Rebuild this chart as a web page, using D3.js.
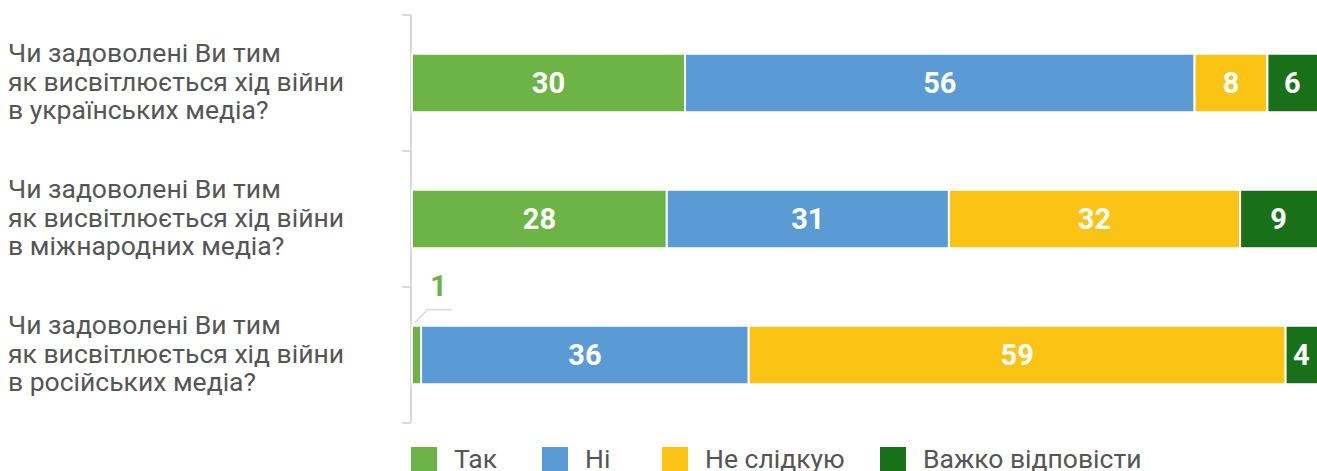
<!DOCTYPE html>
<html>
<head>
<meta charset="utf-8">
<script src="https://cdn.jsdelivr.net/npm/d3@7"></script>
<style>
  html, body { margin: 0; padding: 0; background: #fff; overflow: hidden; }
  svg { display: block; font-family: Roboto, "Noto Sans", sans-serif; }
</style>
</head>
<body>
<div id="chart"></div>
<script>
const questions = [
    ['Чи задоволені Ви тим', 'як висвітлюється хід війни', 'в українських медіа?'],
    ['Чи задоволені Ви тим', 'як висвітлюється хід війни', 'в міжнародних медіа?'],
    ['Чи задоволені Ви тим', 'як висвітлюється хід війни', 'в російських медіа?']
];
const seriesNames = ['Так', 'Ні', 'Не слідкую', 'Важко відповісти'];
const seriesColors = ['#6db446', '#5b9bd5', '#fbc313', '#187119'];
const yesValues = [30, 28, 1];
const noValues = [56, 31, 36];
const notFollowValues = [8, 32, 59];
const hardValues = [6, 9, 4];

const width = 1317, height = 471;
const svg = d3.select('#chart').append('svg')
    .attr('width', width)
    .attr('height', height);

const rows = questions.map((q, i) => ({
    key: i,
    lines: q,
    values: [yesValues[i], noValues[i], notFollowValues[i], hardValues[i]]
}));

const x = d3.scaleLinear().domain([0, 100]).range([412, 1322]);
const y = d3.scaleBand()
    .domain(rows.map(r => r.key))
    .range([15, 423])
    .paddingInner(0.57)
    .paddingOuter(0.285);

/* axis: vertical line + category ticks at band edges */
const axisX = 411;
const step = y.step();
const axis = svg.append('g').attr('class', 'axis');
axis.append('line')
    .attr('x1', axisX).attr('x2', axisX)
    .attr('y1', 15).attr('y2', 423)
    .attr('stroke', '#d9d9d9').attr('stroke-width', 2);
d3.range(rows.length + 1).forEach(k => {
    axis.append('line')
        .attr('x1', axisX - 9).attr('x2', axisX)
        .attr('y1', 15 + k * step).attr('y2', 15 + k * step)
        .attr('stroke', '#d9d9d9').attr('stroke-width', 2);
});

/* category labels */
const labels = svg.append('g').attr('class', 'labels');
rows.forEach(r => {
    const cy = y(r.key) + y.bandwidth() / 2;
    const t = labels.append('text')
        .attr('x', 8)
        .attr('fill', '#555')
        .style('font-size', '26.5px');
    r.lines.forEach((line, j) => {
        t.append('tspan')
            .attr('x', 8)
            .attr('y', cy - 21 + j * 28.5)
            .text(line);
    });
});

/* stacked bars */
const bars = svg.append('g').attr('class', 'bars');
rows.forEach(r => {
    let acc = 0;
    r.values.forEach((v, s) => {
        const x0 = x(acc), x1 = x(acc + v);
        acc += v;
        bars.append('rect')
            .attr('x', x0)
            .attr('y', y(r.key))
            .attr('width', x1 - x0)
            .attr('height', y.bandwidth())
            .attr('fill', seriesColors[s])
            .attr('stroke', '#fff')
            .attr('stroke-width', 2);

        const cy = y(r.key) + y.bandwidth() / 2;
        const cx = (x0 + Math.min(x1, width)) / 2;
        if (x1 - x0 > 20) {
            bars.append('text')
                .attr('x', cx)
                .attr('y', cy)
                .attr('dy', '0.36em')
                .attr('text-anchor', 'middle')
                .attr('fill', '#fff')
                .style('font-size', '29px')
                .style('font-weight', 'bold')
                .text(v);
        } else {
            /* small segment: label above with leader line */
            const top = y(r.key);
            const mx = (x0 + x1) / 2;
            bars.append('path')
                .attr('d', `M${mx - 2},${top - 3}L${mx + 11},${top - 16}H${mx + 35}`)
                .attr('fill', 'none')
                .attr('stroke', '#d9d9d9')
                .attr('stroke-width', 1.5);
            bars.append('text')
                .attr('x', mx + 22)
                .attr('y', top - 30)
                .attr('text-anchor', 'middle')
                .attr('fill', seriesColors[s])
                .style('font-size', '29px')
                .style('font-weight', 'bold')
                .text(v);
        }
    });
});

/* legend */
const legendPos = [411, 542, 662, 880];
const legend = svg.append('g').attr('class', 'legend');
seriesNames.forEach((name, i) => {
    const g = legend.append('g').attr('transform', `translate(${legendPos[i]},447)`);
    g.append('rect')
        .attr('width', 26).attr('height', 26)
        .attr('fill', seriesColors[i]);
    g.append('text')
        .attr('x', 43)
        .attr('y', 21)
        .attr('fill', '#555')
        .style('font-size', '26.5px')
        .text(name);
});
</script>
</body>
</html>
